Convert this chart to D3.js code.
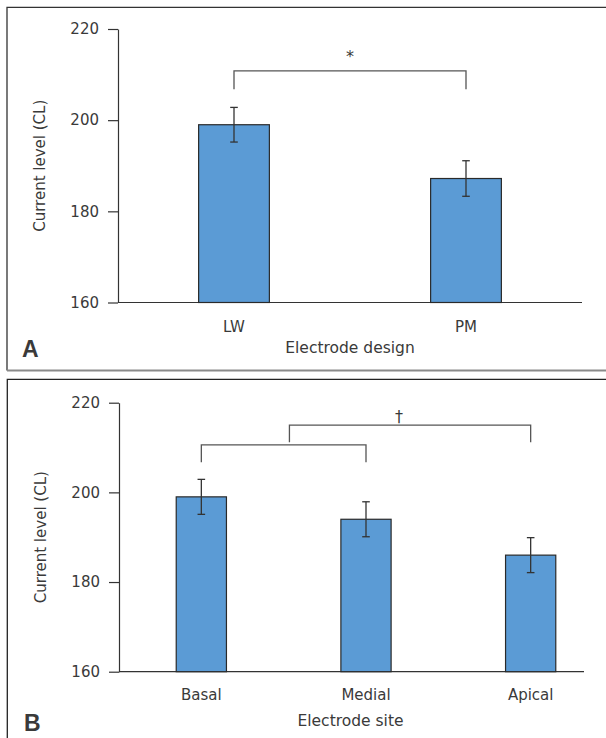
<!DOCTYPE html>
<html>
<head>
<meta charset="utf-8">
<script src="https://cdn.jsdelivr.net/npm/d3@7"></script>
<style>
  html, body { margin: 0; padding: 0; background: #fff; }
  svg { display: block; }
  text { font-family: "DejaVu Sans", sans-serif; fill: #3a3a3a; }
</style>
</head>
<body>
<svg id="chart" width="606" height="738"></svg>
<script>
// ---------- data ----------
const yTicks = [160, 180, 200, 220];
const yDomain = [160, 220];

const designCategories = ["LW", "PM"];
const designMeans = [199, 187.2];
const designErrors = [3.8, 3.9];

const siteCategories = ["Basal", "Medial", "Apical"];
const siteMeans = [199, 194, 186];
const siteErrors = [3.9, 3.9, 3.9];

// brackets: from/to in category-index units, top value and drop-end value
const designBrackets = [{ from: 0, to: 1, top: 210.8, end: 206.8 }];
const designMarks = [{ at: 0.5, value: 214.3, text: "*" }];
const siteBrackets = [
  { from: 0, to: 1, top: 210.6, end: 206.7 },
  { from: 0.535, to: 2, top: 215.0, end: 211.2 }
];
const siteMarks = [{ at: 1.2, value: 217.4, text: "\u2020" }];

const yTitle = "Current level (CL)";
const xTitleA = "Electrode design";
const xTitleB = "Electrode site";

// ---------- drawing ----------
const svg = d3.select("#chart");

// panel frames
svg.append("path")
  .attr("d", "M7,370.5 L7,7.3 L620,7.3")
  .attr("fill", "none").attr("stroke", "#333").attr("stroke-width", 1.3);
svg.append("line")
  .attr("x1", 7).attr("x2", 620).attr("y1", 370.5).attr("y2", 370.5)
  .attr("stroke", "#8a8a8a").attr("stroke-width", 2);
svg.append("path")
  .attr("d", "M7.3,760 L7.3,379.3 L620,379.3")
  .attr("fill", "none").attr("stroke", "#222").attr("stroke-width", 1.3);

function panel(cfg) {
  const g = svg.append("g");
  const x = d3.scaleBand().domain(cfg.categories).range(cfg.bandRange).padding(0);
  const y = d3.scaleLinear().domain(yDomain).range([cfg.yBottom, cfg.yTop]);
  const step = x.step();
  const bw = step * 0.305;
  const cx = i => x(cfg.categories[0]) + step * (i + 0.5);

  // y axis
  const ya = g.append("g")
    .attr("transform", `translate(${cfg.left},0)`)
    .call(d3.axisLeft(y).tickValues(yTicks).tickSize(10).tickSizeOuter(0).tickPadding(9).tickFormat(d3.format("d")));
  ya.select(".domain").attr("stroke", "#333").attr("stroke-width", 1.2);
  ya.selectAll(".tick line").attr("stroke", "#333").attr("stroke-width", 1.2);
  ya.selectAll(".tick text").style("font-size", "15px").style("font-family", "DejaVu Sans").attr("fill", "#3a3a3a");

  // x axis (labels only) + baseline
  const xa = g.append("g")
    .attr("transform", `translate(0,${cfg.yBottom})`)
    .call(d3.axisBottom(x).tickSize(0).tickPadding(cfg.labelPad));
  xa.select(".domain").remove();
  xa.selectAll(".tick text").style("font-size", "15px").style("font-family", "DejaVu Sans").attr("fill", "#3a3a3a");
  g.append("line")
    .attr("x1", cfg.left).attr("x2", cfg.right)
    .attr("y1", cfg.yBottom).attr("y2", cfg.yBottom)
    .attr("stroke", "#333").attr("stroke-width", 1.2);

  // bars
  g.selectAll("rect.bar").data(cfg.means).join("rect")
    .attr("class", "bar")
    .attr("x", (d, i) => cx(i) - bw / 2)
    .attr("width", bw)
    .attr("y", d => y(d))
    .attr("height", d => y(yDomain[0]) - y(d))
    .attr("fill", "#5b9bd5")
    .attr("stroke", "#2a2a2a").attr("stroke-width", 1.2);

  // error bars
  const eg = g.selectAll("g.err").data(cfg.means).join("g").attr("class", "err");
  eg.append("line")
    .attr("x1", (d, i) => cx(i)).attr("x2", (d, i) => cx(i))
    .attr("y1", (d, i) => y(d + cfg.errors[i])).attr("y2", (d, i) => y(d - cfg.errors[i]))
    .attr("stroke", "#333").attr("stroke-width", 1.3);
  [1, -1].forEach(s => {
    eg.append("line")
      .attr("x1", (d, i) => cx(i) - 3.8).attr("x2", (d, i) => cx(i) + 3.8)
      .attr("y1", (d, i) => y(d + s * cfg.errors[i])).attr("y2", (d, i) => y(d + s * cfg.errors[i]))
      .attr("stroke", "#333").attr("stroke-width", 1.3);
  });

  // brackets
  g.selectAll("path.br").data(cfg.brackets).join("path")
    .attr("class", "br")
    .attr("d", b => `M${cx(b.from)},${y(b.end)} L${cx(b.from)},${y(b.top)} L${cx(b.to)},${y(b.top)} L${cx(b.to)},${y(b.end)}`)
    .attr("fill", "none").attr("stroke", "#555").attr("stroke-width", 1.3);
  g.selectAll("text.mk").data(cfg.marks).join("text")
    .attr("class", "mk")
    .attr("x", m => cx(m.at)).attr("y", m => y(m.value))
    .attr("dy", "0.45em")
    .attr("text-anchor", "middle")
    .style("font-size", "16px")
    .text(m => m.text);

  // titles
  g.append("text")
    .attr("transform", `translate(${cfg.yTitleX},${(cfg.yTop + cfg.yBottom) / 2}) rotate(-90)`)
    .attr("text-anchor", "middle")
    .style("font-size", "15px")
    .text(yTitle);
  g.append("text")
    .attr("x", (cfg.bandRange[0] + 582) / 2).attr("y", cfg.xTitleY)
    .attr("text-anchor", "middle")
    .style("font-size", "15.5px")
    .text(cfg.xTitle);
  g.append("text")
    .attr("x", cfg.letterX).attr("y", cfg.letterY)
    .style("font-family", "Liberation Sans, Arial, sans-serif")
    .style("font-weight", "bold")
    .style("font-size", "23px")
    .attr("fill", "#222")
    .text(cfg.letter);
}

panel({
  categories: designCategories, means: designMeans, errors: designErrors,
  brackets: designBrackets, marks: designMarks,
  left: 118, right: 582, bandRange: [118, 582],
  yTop: 29, yBottom: 302.5, labelPad: 19,
  yTitleX: 44.5, xTitle: xTitleA, xTitleY: 352.5,
  letter: "A", letterX: 22, letterY: 357
});

panel({
  categories: siteCategories, means: siteMeans, errors: siteErrors,
  brackets: siteBrackets, marks: siteMarks,
  left: 119, right: 584, bandRange: [119, 613],
  yTop: 402.7, yBottom: 671.7, labelPad: 18,
  yTitleX: 46, xTitle: xTitleB, xTitleY: 726,
  letter: "B", letterX: 24, letterY: 731
});
</script>
</body>
</html>
